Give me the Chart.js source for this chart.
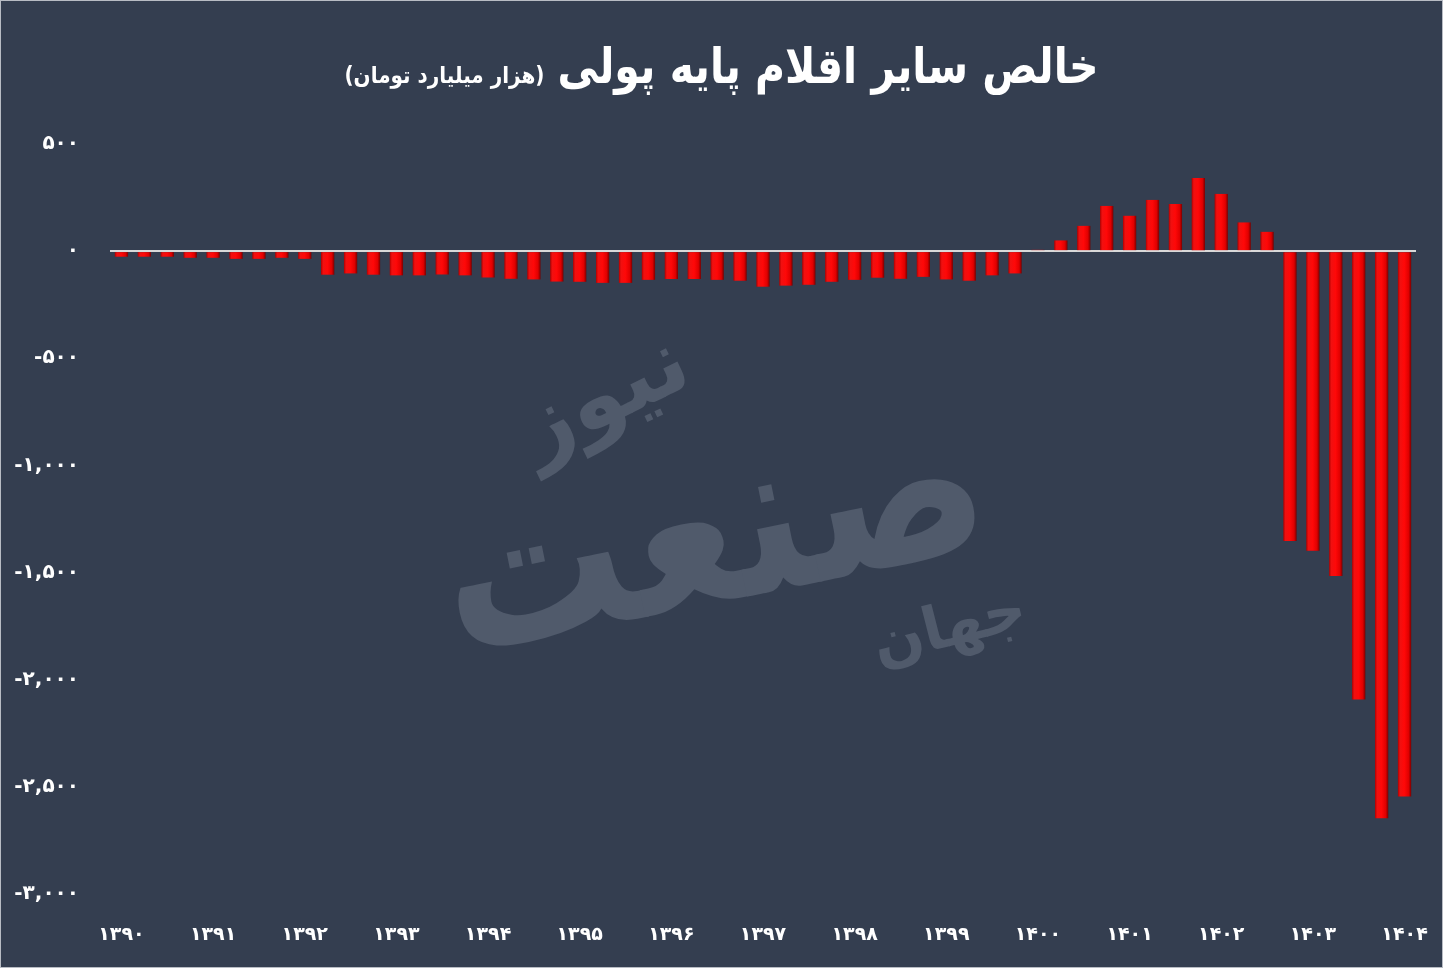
<!DOCTYPE html>
<html><head><meta charset="utf-8">
<script src="https://cdn.jsdelivr.net/npm/chart.js@4.4.1/dist/chart.umd.min.js"></script>
<style>
html,body{margin:0;padding:0;background:#343e50;}
#wrap{width:1443px;height:968px;position:relative;}
canvas{display:block;}
</style>
</head><body>
<div id="wrap"><canvas id="c" width="1443" height="968"></canvas></div>
<script>
// ---- data ----
const titleText = 'خالص سایر اقلام پایه پولی';
const subtitleText = '(هزار میلیارد تومان)';
const watermarkTexts = ['صنعت', 'نیوز', 'جهان'];
const years = ['1390','1391','1392','1393','1394','1395','1396','1397','1398','1399','1400','1401','1402','1403','1404'];
const yearTickLabels = ['۱۳۹۰','۱۳۹۱','۱۳۹۲','۱۳۹۳','۱۳۹۴','۱۳۹۵','۱۳۹۶','۱۳۹۷','۱۳۹۸','۱۳۹۹','۱۴۰۰','۱۴۰۱','۱۴۰۲','۱۴۰۳','۱۴۰۴'];
const quarters = ['Q1','Q2','Q3','Q4'];
const values = [
  -26, -26, -26, -31,   -31, -36, -36, -31,   -36, -110, -104, -110,
  -113, -113, -109, -113,   -123, -129, -132, -142,   -143, -148, -148, -134,
  -130, -130, -134, -138,   -166, -161, -157, -143,   -134, -124, -129, -120,
  -132, -138, -113, -104,   6, 50, 118, 211,   165, 239, 220, 341,
  267, 134, 90, -1353,   -1398, -1516, -2092, -2646,   -2545
];
const yMin = -3000, yMax = 500, yStep = 500;

const periods = [];
years.forEach(y => quarters.forEach(q => { if (periods.length < values.length) periods.push(y + '-' + q); }));

const faDigits = '۰۱۲۳۴۵۶۷۸۹';
function toFa(n) {
  return Number(n).toLocaleString('en-US').replace(/[0-9]/g, d => faDigits[+d]);
}

const FONT = "'DejaVu Sans', sans-serif";

const bgPlugin = {
  id: 'bg',
  beforeDraw(chart) {
    const c = chart.ctx;
    c.save();
    c.fillStyle = '#343e50';
    c.fillRect(0, 0, chart.width, chart.height);
    c.strokeStyle = '#b8bcc4';
    c.lineWidth = 1;
    c.strokeRect(0.5, 0.5, chart.width - 1, chart.height - 1);
    // watermark
    c.fillStyle = '#505a6b';
    c.direction = 'rtl';
    c.textAlign = 'center';
    c.textBaseline = 'middle';
    c.save();
    c.translate(715, 545);
    c.rotate(-0.2);
    c.scale(1.05, 1.25);
    c.font = 'bold 175px ' + FONT;
    c.fillText(watermarkTexts[0], 0, 0);
    c.restore();
    c.save();
    c.translate(605, 400);
    c.rotate(-0.45);
    c.font = 'bold 90px ' + FONT;
    c.fillText(watermarkTexts[1], 0, 0);
    c.restore();
    c.save();
    c.translate(950, 630);
    c.rotate(-0.25);
    c.font = 'bold 60px ' + FONT;
    c.fillText(watermarkTexts[2], 0, 0);
    c.restore();
    c.restore();
  },
  afterDraw(chart) {
    const c = chart.ctx;
    c.save();
    c.direction = 'rtl';
    c.textAlign = 'left';
    c.textBaseline = 'alphabetic';
    c.fillStyle = '#ffffff';
    c.font = 'bold 41px ' + FONT;
    const w1 = c.measureText(titleText).width;
    c.font = 'bold 20px ' + FONT;
    const w2 = c.measureText(subtitleText).width;
    const gap = 13;
    const x0 = (chart.width - (w1 + gap + w2)) / 2;
    c.save();
    c.translate(x0, 83);
    c.scale(1, 1.15);
    c.fillText(subtitleText, 0, 0);
    c.restore();
    c.save();
    c.translate(x0 + w2 + gap, 83);
    c.scale(1, 1.2);
    c.font = 'bold 41px ' + FONT;
    c.fillText(titleText, 0, 0);
    c.restore();
    c.restore();
  }
};

new Chart(document.getElementById('c'), {
  type: 'bar',
  data: {
    labels: periods,
    datasets: [{
      data: values,
      barPercentage: 0.58,
      categoryPercentage: 1,
      borderWidth: 0,
      backgroundColor: (ctx) => {
        const chart = ctx.chart;
        const xs = chart.scales && chart.scales.x;
        if (!xs || !xs.width || ctx.type !== 'data') return '#ff0000';
        const cx = xs.getPixelForValue(ctx.dataIndex);
        const w = xs.width / periods.length * 0.58;
        const g = chart.ctx.createLinearGradient(cx - w / 2, 0, cx + w / 2 + 1, 0);
        g.addColorStop(0, '#b00000');
        g.addColorStop(0.15, '#f01010');
        g.addColorStop(0.45, '#ff0808');
        g.addColorStop(0.75, '#e00000');
        g.addColorStop(0.9, '#8a0000');
        g.addColorStop(1, '#3a0a0a');
        return g;
      }
    }]
  },
  options: {
    responsive: false,
    animation: false,
    layout: { padding: { top: 144, right: 27, left: 0, bottom: 0 } },
    plugins: { legend: { display: false }, tooltip: { enabled: false }, title: { display: false } },
    scales: {
      x: {
        grid: { display: false, drawTicks: false },
        border: { display: false },
        afterFit(scale) { scale.height = 968 - 894; scale.paddingLeft = 0; scale.paddingRight = 0; },
        ticks: {
          autoSkip: false,
          maxRotation: 0,
          padding: 30,
          color: '#ffffff',
          font: { family: FONT, size: 19, weight: 'bold' },
          callback: (v, i) => (i % 4 === 0 ? yearTickLabels[i / 4] : '')
        }
      },
      y: {
        min: yMin, max: yMax,
        afterFit(scale) { scale.width = 110; scale.paddingTop = 0; scale.paddingBottom = 0; },
        grid: {
          drawTicks: false,
          color: (ctx) => (ctx.tick && ctx.tick.value === 0 ? '#d9d9d9' : 'rgba(0,0,0,0)'),
          lineWidth: (ctx) => (ctx.tick && ctx.tick.value === 0 ? 2 : 0)
        },
        border: { display: false },
        ticks: {
          stepSize: yStep,
          padding: 31,
          color: '#ffffff',
          font: { family: FONT, size: 20, weight: 'bold' },
          callback: (v) => toFa(v)
        }
      }
    }
  },
  plugins: [bgPlugin]
});
</script>
</body></html>
